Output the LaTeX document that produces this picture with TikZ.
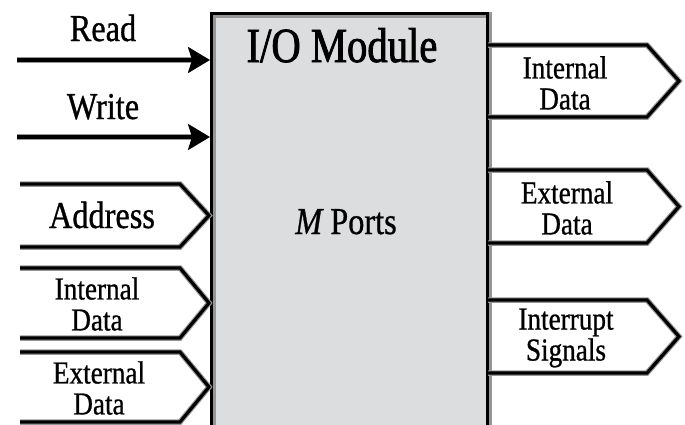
\documentclass[tikz,border=0pt]{standalone}
\usepackage{fontspec}
\newfontfamily\condserif[FakeStretch=0.85,FakeBold=0.8]{Liberation Serif}
\newfontfamily\condserifheavy[FakeStretch=0.83,FakeBold=1.6]{Liberation Serif}
\usetikzlibrary{arrows.meta}
\definecolor{boxfill}{RGB}{220,221,223}
\definecolor{halo}{RGB}{150,150,150}
\tikzset{
  halo line/.style={draw=halo, line width=5.5pt, line join=miter},
  sig line/.style={draw=black, line width=3.2pt, line join=miter},
  big text/.style={font=\condserifheavy\fontsize{49}{49}\selectfont, inner sep=0pt},
  mid text/.style={font=\condserif\fontsize{38}{38}\selectfont, inner sep=0pt},
  small text/.style={font=\condserif\fontsize{32}{31}\selectfont, align=center, inner sep=0pt},
  ctl arrow/.style={sig line, -{Stealth[length=22pt,width=26pt,inset=4pt]}},
}
\begin{document}
\begin{tikzpicture}[x=1pt,y=-1pt]
  \useasboundingbox (0,0) rectangle (685,424);

  % the module block
  \node[draw=halo, line width=6pt, fill=boxfill, minimum width=276pt, minimum height=414pt,
        anchor=north west, inner sep=0pt] (halobox) at (210,12) {};
  \node[draw=black, line width=3.2pt, minimum width=276pt, minimum height=414pt,
        anchor=north west, inner sep=0pt] (io) at (210,12) {};
  \node[big text, anchor=base] (title) at (342,62) {I/O Module};
  \node[mid text, anchor=base] (ports) at (346,234) {\itshape M\upshape\ Ports};

  % control inputs
  \coordinate (rd0) at (17,60);
  \coordinate (rd1) at (io.west |- rd0);
  \coordinate (wr0) at (17,137);
  \coordinate (wr1) at (io.west |- wr0);
  \draw[halo line] (rd0) -- ([xshift=-18pt]rd1);
  \draw[halo line] (wr0) -- ([xshift=-18pt]wr1);
  \draw[ctl arrow] (rd0) -- (rd1);
  \draw[ctl arrow] (wr0) -- (wr1);
  \node[mid text, anchor=base] (readlbl) at (103,41) {Read};
  \node[mid text, anchor=base] (writelbl) at (103,119) {Write};

  % bus inputs (left) and outputs (right)
  \foreach \nm/\t/\b in {addr/184/247, lint/268/338, lext/352/422}{
    \coordinate (\nm-a) at (20,\t);
    \coordinate (\nm-b) at (180,\t);
    \coordinate (\nm-c) at (209,{(\t+\b)/2});
    \coordinate (\nm-d) at (180,\b);
    \coordinate (\nm-e) at (20,\b);
    \draw[halo line] (\nm-a) -- (\nm-b) -- (\nm-c) -- (\nm-d) -- (\nm-e);
    \draw[sig line] (\nm-a) -- (\nm-b) -- (\nm-c) -- (\nm-d) -- (\nm-e);
  }
  \foreach \nm/\t/\b in {rint/45/117, rext/170/243, rirq/300/373}{
    \coordinate (\nm-a) at (488,\t);
    \coordinate (\nm-b) at (647,\t);
    \coordinate (\nm-c) at (679,{(\t+\b)/2});
    \coordinate (\nm-d) at (647,\b);
    \coordinate (\nm-e) at (488,\b);
    \draw[halo line] (\nm-a) -- (\nm-b) -- (\nm-c) -- (\nm-d) -- (\nm-e);
    \draw[sig line] (\nm-a) -- (\nm-b) -- (\nm-c) -- (\nm-d) -- (\nm-e);
  }
  \node[mid text, anchor=base] (addrlbl) at (102,228) {Address};
  \node[small text] (lintlbl) at (97,304) {Internal\\Data};
  \node[small text] (lextlbl) at (99,388) {External\\Data};
  \node[small text] (rintlbl) at (565,83) {Internal\\Data};
  \node[small text] (rextlbl) at (567,208) {External\\Data};
  \node[small text] (rirqlbl) at (566,338) {Interrupt\\Signals};
\end{tikzpicture}
\end{document}
